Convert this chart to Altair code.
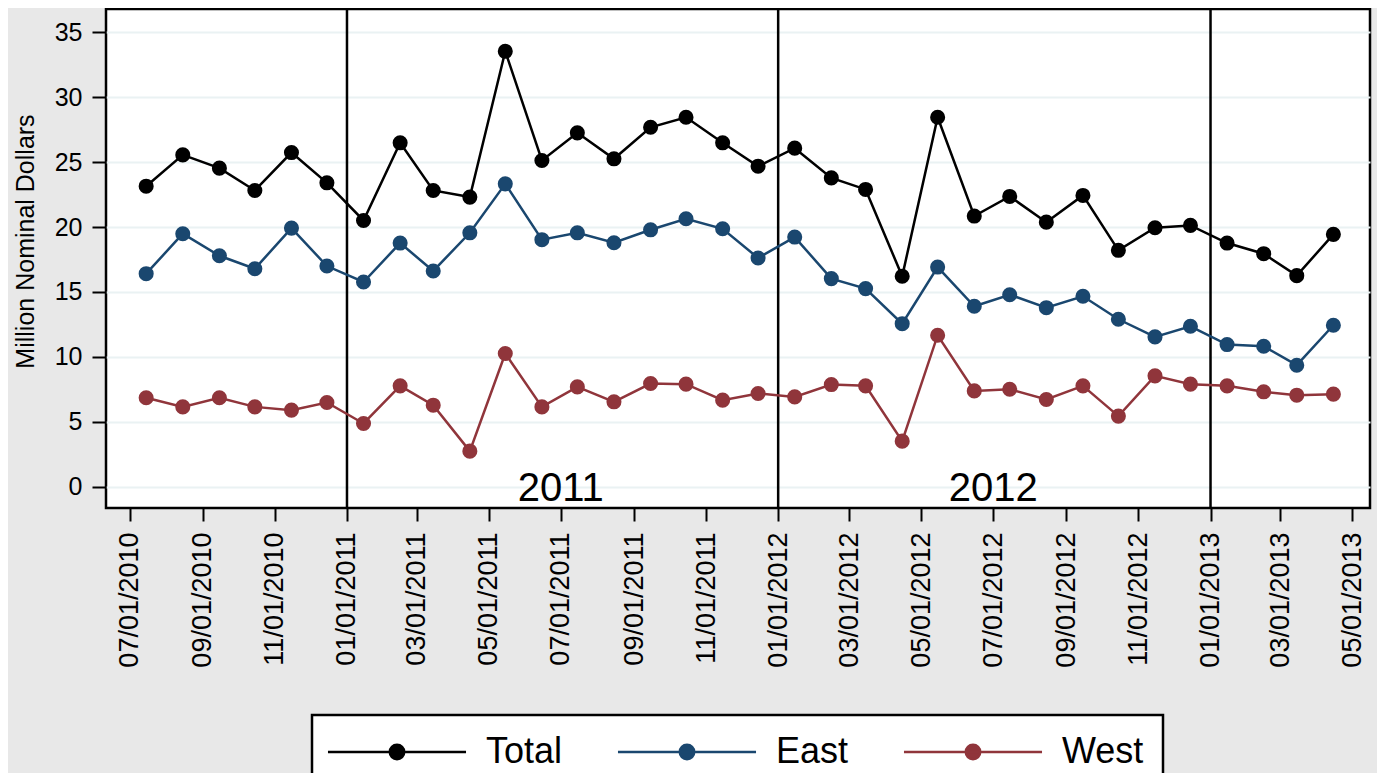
import altair as alt
import pandas as pd

months = [
    "2010-07-15", "2010-08-15", "2010-09-15", "2010-10-15", "2010-11-15", "2010-12-15",
    "2011-01-15", "2011-02-15", "2011-03-15", "2011-04-15", "2011-05-15", "2011-06-15",
    "2011-07-15", "2011-08-15", "2011-09-15", "2011-10-15", "2011-11-15", "2011-12-15",
    "2012-01-15", "2012-02-15", "2012-03-15", "2012-04-15", "2012-05-15", "2012-06-15",
    "2012-07-15", "2012-08-15", "2012-09-15", "2012-10-15", "2012-11-15", "2012-12-15",
    "2013-01-15", "2013-02-15", "2013-03-15", "2013-04-15",
]
total = [23.15, 25.56, 24.54, 22.82, 25.74, 23.41,
         20.51, 26.49, 22.82, 22.31, 33.54, 25.13, 27.26, 25.26, 27.69, 28.46, 26.49, 24.69,
         26.08, 23.79, 22.90, 16.21, 28.46, 20.85, 22.36, 20.38, 22.44, 18.21, 19.95, 20.13,
         18.77, 17.95, 16.26, 19.44]
east = [16.41, 19.49, 17.79, 16.79, 19.92, 17.00,
        15.77, 18.77, 16.62, 19.56, 23.33, 19.03, 19.56, 18.79, 19.79, 20.64, 19.87, 17.62,
        19.23, 16.03, 15.26, 12.56, 16.92, 13.90, 14.79, 13.79, 14.67, 12.90, 11.54, 12.36,
        10.95, 10.82, 9.36, 12.44]
west = [6.85, 6.15, 6.85, 6.15, 5.90, 6.49,
        4.87, 7.77, 6.28, 2.74, 10.26, 6.15, 7.69, 6.54, 7.95, 7.90, 6.67, 7.18,
        6.92, 7.87, 7.77, 3.51, 11.67, 7.38, 7.51, 6.72, 7.77, 5.44, 8.54, 7.90,
        7.77, 7.31, 7.05, 7.13]

series_names = ["Total", "East", "West"]
series_colors = ["#000000", "#1a476f", "#90353b"]

year_lines = ["2011-01-01", "2012-01-01", "2013-01-01"]
year_labels = ["2011", "2012"]
year_label_dates = ["2011-07-01", "2012-07-01"]

y_ticks = [0, 5, 10, 15, 20, 25, 30, 35]
x_tick_months = [(2010, 7), (2010, 9), (2010, 11), (2011, 1), (2011, 3), (2011, 5),
                 (2011, 7), (2011, 9), (2011, 11), (2012, 1), (2012, 3), (2012, 5),
                 (2012, 7), (2012, 9), (2012, 11), (2013, 1), (2013, 3), (2013, 5)]

FONT = "Liberation Sans"

rows = []
for name, vals in zip(series_names, [total, east, west]):
    for m, v in zip(months, vals):
        rows.append({"date": m + "T00:00:00", "series": name, "value": v})
df = pd.DataFrame(rows)

rules_df = pd.DataFrame({"date": [d + "T00:00:00" for d in year_lines]})
labels_df = pd.DataFrame({"date": [d + "T00:00:00" for d in year_label_dates],
                          "label": year_labels, "y": [0, 0]})

x_scale = alt.Scale(domain=[alt.DateTime(year=2010, month=6, date=11),
                            alt.DateTime(year=2013, month=5, date=16)])
y_scale = alt.Scale(domain=[-1.64, 36.80], nice=False, zero=False)

x_axis = alt.Axis(
    values=[alt.DateTime(year=y, month=m, date=1) for y, m in x_tick_months],
    format="%m/%d/%Y", labelAngle=270, labelFontSize=27, labelColor="black",
    labelFont=FONT, tickSize=13, tickWidth=2, tickColor="black", labelPadding=11,
    grid=False, domain=False, title=None, labelOverlap=False, labelFlush=False,
    labelBound=False,
)
y_axis = alt.Axis(
    values=y_ticks, tickSize=14, tickWidth=2, tickColor="black", labelFontSize=25,
    labelColor="black", labelFont=FONT, labelPadding=10, grid=True,
    gridColor="#eaf2f3", gridWidth=2, domain=False, title="Million Nominal Dollars",
    titleFontSize=25, titleFontWeight="normal", titleFont=FONT, titleColor="black",
    titleX=-73, titleY=232, titleBaseline="alphabetic", titleAngle=270,
    titleAlign="center",
)

legend_path = "M-8.12,0H8.12M0.85,0A0.85,0.85,0,1,1,-0.85,0A0.85,0.85,0,1,1,0.85,0Z"
leg = alt.Legend(
    orient="none", legendX=206, legendY=706, direction="horizontal", title=None,
    symbolType=legend_path, symbolSize=289, symbolStrokeWidth=2.5,
    symbolOffset=48, labelOffset=71, labelFontSize=36, labelFont=FONT,
    labelColor="black", columnPadding=49, padding=19, fillColor="white",
    strokeColor="black", labelLimit=0,
)

stroke_scale = alt.Scale(domain=series_names, range=series_colors)
fill_scale = alt.Scale(domain=series_names, range=series_colors)

base = alt.Chart(df).encode(
    x=alt.X("date:T", scale=x_scale, axis=x_axis),
    y=alt.Y("value:Q", scale=y_scale, axis=y_axis),
)

lines = base.mark_line(strokeWidth=2.5).encode(
    stroke=alt.Stroke("series:N", scale=stroke_scale, legend=leg),
    detail="series:N",
)
points = base.mark_point(filled=True, size=227, opacity=1).encode(
    fill=alt.Fill("series:N", scale=fill_scale, legend=leg),
    detail="series:N",
)

rules = alt.Chart(rules_df).mark_rule(color="black", strokeWidth=2.5).encode(
    x=alt.X("date:T", scale=x_scale, axis=x_axis)
)
texts = alt.Chart(labels_df).mark_text(
    fontSize=40, font=FONT, baseline="middle", align="center", color="black", dy=2
).encode(
    x=alt.X("date:T", scale=x_scale, axis=x_axis),
    y=alt.Y("y:Q", scale=y_scale, axis=y_axis),
    text="label:N",
)

chart = alt.layer(rules, texts, lines, points).properties(
    width=1264, height=499,
    autosize=alt.AutoSizeParams(type="none"),
    padding={"left": 98, "top": 1, "right": 7, "bottom": 265},
).configure(
    font=FONT, background="#e8e8e8"
).configure_view(
    stroke="black", strokeWidth=2.5, fill="white"
).configure_legend(
    strokeWidth=2.5
)

chart.save("out.html", embed_options={"renderer": "svg", "actions": False})
